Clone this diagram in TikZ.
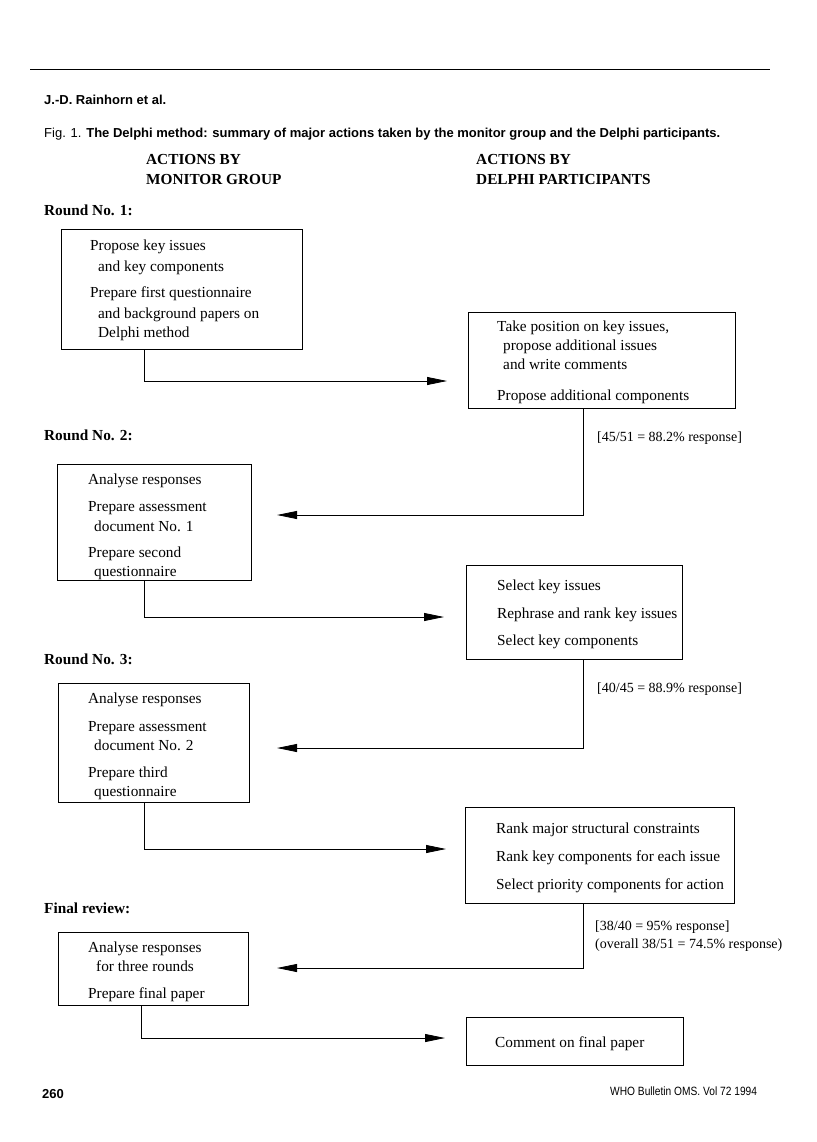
\documentclass[tikz,border=0pt]{standalone}
\usepackage{fontspec}
\usepackage{graphicx}
\setmainfont{Liberation Serif}
\setsansfont{Liberation Sans}
\usetikzlibrary{arrows.meta,calc}
\begin{document}
\begin{tikzpicture}[x=1pt,y=1pt,
  box/.style={draw, line width=0.9pt, inner sep=0pt, anchor=north west},
  tx/.style={anchor=base west, inner sep=0pt, font=\fontsize{15.3}{18}\selectfont},
  hd/.style={anchor=base west, inner sep=0pt, font=\fontsize{15.3}{18}\selectfont\bfseries},
  lab/.style={anchor=base west, inner sep=0pt, font=\fontsize{14}{17}\selectfont},
  sfb/.style={anchor=base west, inner sep=0pt, font=\fontsize{13}{15}\selectfont\sffamily\bfseries},
  sfr/.style={anchor=base west, inner sep=0pt, font=\fontsize{12}{14}\selectfont\sffamily},
  conn/.style={line width=0.8pt},
  arr/.style={conn, -{Triangle[length=20pt,width=8pt]}}]
\useasboundingbox (0,0) rectangle (816,-1142);
\fill[white] (0,0) rectangle (816,-1142);

% header
\coordinate (rl) at (30,-69);
\coordinate (rr) at (770,-69);
\draw[line width=0.9pt] (rl) -- (rr);
\node[sfb] (author) at (44,-105) {J.-D. Rainhorn et al.};
\node[sfb] (caption) at (44,-138) {{\mdseries Fig. 1.} The Delphi method: summary of major actions taken by the monitor group and the Delphi participants.};

% column headings
\node[hd] (h1a) at (146,-165) {ACTIONS BY};
\node[hd] (h1b) at (146,-185) {MONITOR GROUP};
\node[hd] (h2a) at (476,-165) {ACTIONS BY};
\node[hd] (h2b) at (476,-185) {DELPHI PARTICIPANTS};

% round labels
\node[hd] (r1) at (44,-215) {Round No. 1:};
\node[hd] (r2) at (44,-440) {Round No. 2:};
\node[hd] (r3) at (44,-664) {Round No. 3:};
\node[hd] (r4) at (44,-913) {Final review:};

% boxes
\node[box, minimum width=241pt, minimum height=120pt] (b1) at (61,-229) {};
\node[box, minimum width=267pt, minimum height=96pt] (b2) at (468,-312) {};
\node[box, minimum width=194pt, minimum height=116pt] (b3) at (57,-464) {};
\node[box, minimum width=216pt, minimum height=94pt] (b4) at (466,-565) {};
\node[box, minimum width=191pt, minimum height=119pt] (b5) at (58,-683) {};
\node[box, minimum width=269pt, minimum height=96pt] (b6) at (465,-807) {};
\node[box, minimum width=190pt, minimum height=73pt] (b7) at (58,-932) {};
\node[box, minimum width=217pt, minimum height=48pt] (b8) at (466,-1017) {};

% box texts
\node[tx] (t11) at (90,-250) {Propose key issues};
\node[tx] (t12) at (98,-271) {and key components};
\node[tx] (t13) at (90,-297) {Prepare first questionnaire};
\node[tx] (t14) at (98,-318) {and background papers on};
\node[tx] (t15) at (98,-337) {Delphi method};

\node[tx] (t21) at (497,-331) {Take position on key issues,};
\node[tx] (t22) at (503,-350) {propose additional issues};
\node[tx] (t23) at (503,-369) {and write comments};
\node[tx] (t24) at (497,-400) {Propose additional components};

\node[tx] (t31) at (88,-484) {Analyse responses};
\node[tx] (t32) at (88,-511) {Prepare assessment};
\node[tx] (t33) at (94,-531) {document No. 1};
\node[tx] (t34) at (88,-557) {Prepare second};
\node[tx] (t35) at (94,-576) {questionnaire};

\node[tx] (t41) at (497,-590) {Select key issues};
\node[tx] (t42) at (497,-618) {Rephrase and rank key issues};
\node[tx] (t43) at (497,-645) {Select key components};

\node[tx] (t51) at (88,-703) {Analyse responses};
\node[tx] (t52) at (88,-731) {Prepare assessment};
\node[tx] (t53) at (94,-750) {document No. 2};
\node[tx] (t54) at (88,-777) {Prepare third};
\node[tx] (t55) at (94,-796) {questionnaire};

\node[tx] (t61) at (496,-833) {Rank major structural constraints};
\node[tx] (t62) at (496,-861) {Rank key components for each issue};
\node[tx] (t63) at (496,-889) {Select priority components for action};

\node[tx] (t71) at (88,-952) {Analyse responses};
\node[tx] (t72) at (96,-971) {for three rounds};
\node[tx] (t73) at (88,-998) {Prepare final paper};

\node[tx] (t81) at (495,-1047) {Comment on final paper};

% response labels
\node[lab] (l1) at (597,-441) {[45/51 = 88.2\% response]};
\node[lab] (l2) at (597,-692) {[40/45 = 88.9\% response]};
\node[lab] (l3) at (595,-930) {[38/40 = 95\% response]};
\node[lab] (l4) at (595,-948) {(overall 38/51 = 74.5\% response)};

% connector ends
\coordinate (e1) at (447,-381);
\coordinate (e2) at (277,-515);
\coordinate (e3) at (444,-617);
\coordinate (e4) at (277,-748);
\coordinate (e5) at (446,-849);
\coordinate (e6) at (277,-968);
\coordinate (e7) at (445,-1038);

\draw[arr] ($(b1.south west)+(83,0)$) |- (e1);
\draw[arr] ($(b2.south west)+(115,0)$) |- (e2);
\draw[arr] ($(b3.south west)+(87,0)$) |- (e3);
\draw[arr] ($(b4.south west)+(117,0)$) |- (e4);
\draw[arr] ($(b5.south west)+(86,0)$) |- (e5);
\draw[arr] ($(b6.south west)+(118,0)$) |- (e6);
\draw[arr] ($(b7.south west)+(83,0)$) |- (e7);

% footer
\node[sfb] (page) at (42,-1098) {260};
\node[sfr] (journal) at (610,-1095) {\scalebox{0.85}[1]{WHO Bulletin OMS. Vol 72 1994}};
\end{tikzpicture}
\end{document}
